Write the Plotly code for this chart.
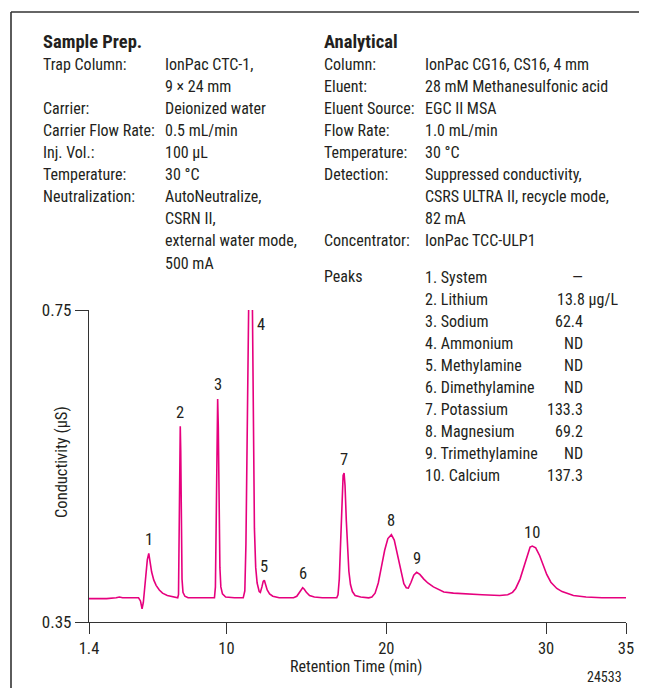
import plotly.graph_objects as go

# ---------------- data ----------------
time_min = [
    1.4, 2.5, 3.1, 3.3, 3.5, 4.5, 4.62, 4.72, 4.80, 4.88, 4.96, 5.05, 5.14, 5.22,
    5.32, 5.45, 5.6, 5.8, 6.0, 6.3, 6.7, 6.95, 7.0, 7.04, 7.08, 7.11, 7.14, 7.18,
    7.22, 7.28, 7.4, 7.6, 9.25, 9.31, 9.36, 9.41, 9.45, 9.49, 9.54, 9.59, 9.65,
    9.75, 9.95, 10.5, 11.05, 11.15, 11.22, 11.30, 11.38, 11.44, 11.5, 11.56, 11.62,
    11.68, 11.75, 11.83, 11.92, 12.05, 12.12, 12.22, 12.30, 12.37, 12.45, 12.55,
    12.7, 12.9, 13.3, 14.2, 14.4, 14.55, 14.67, 14.77, 14.87, 15.0, 15.2, 15.5,
    16.0, 16.9, 16.98, 17.06, 17.14, 17.22, 17.3, 17.36, 17.42, 17.5, 17.58, 17.66,
    17.76, 17.88, 18.05, 18.4, 18.9, 19.1, 19.3, 19.5, 19.7, 19.9, 20.1, 20.32,
    20.5, 20.7, 20.9, 21.1, 21.25, 21.38, 21.55, 21.72, 21.9, 22.1, 22.35, 22.6,
    22.95, 23.3, 23.6, 24.2, 25.0, 26.0, 27.1, 27.6, 27.9, 28.1, 28.37, 28.6, 28.8,
    29.0, 29.14, 29.35, 29.6, 29.85, 30.04, 30.3, 30.67, 31.0, 31.4, 31.71, 32.5,
    33.5, 35.0,
]
conductivity_uS = [
    0.380, 0.380, 0.381, 0.382, 0.381, 0.381, 0.377, 0.367, 0.375, 0.392, 0.412,
    0.430, 0.438, 0.428, 0.414, 0.404, 0.397, 0.391, 0.387, 0.384, 0.382, 0.381,
    0.385, 0.450, 0.560, 0.601, 0.570, 0.470, 0.405, 0.388, 0.383, 0.381, 0.381,
    0.395, 0.480, 0.590, 0.636, 0.600, 0.500, 0.420, 0.395, 0.386, 0.382, 0.381,
    0.381, 0.390, 0.450, 0.600, 0.780, 0.920, 0.950, 0.900, 0.750, 0.580, 0.470,
    0.420, 0.400, 0.389, 0.388, 0.395, 0.402, 0.4035, 0.399, 0.391, 0.386, 0.383,
    0.381, 0.381, 0.383, 0.388, 0.392, 0.394, 0.392, 0.388, 0.384, 0.382, 0.381,
    0.381, 0.385, 0.405, 0.450, 0.510, 0.538, 0.541, 0.525, 0.480, 0.440, 0.415,
    0.398, 0.389, 0.384, 0.382, 0.381, 0.382, 0.387, 0.400, 0.421, 0.442, 0.457,
    0.462, 0.455, 0.436, 0.414, 0.399, 0.394, 0.3935, 0.401, 0.410, 0.4137, 0.411,
    0.405, 0.400, 0.395, 0.391, 0.3885, 0.387, 0.3865, 0.385, 0.384, 0.385, 0.388,
    0.393, 0.405, 0.420, 0.436, 0.446, 0.4474, 0.445, 0.435, 0.420, 0.411, 0.401,
    0.393, 0.389, 0.386, 0.384, 0.382, 0.381, 0.381,
]

peak_numbers = ["1", "2", "3", "4", "5", "6", "7", "8", "9", "10"]
peak_times = [5.14, 7.11, 9.45, 11.5, 12.37, 14.77, 17.36, 20.32, 21.9, 29.14]
peak_tops = [0.438, 0.601, 0.636, 0.75, 0.4035, 0.394, 0.541, 0.462, 0.4137, 0.4474]

x_tick_values = [1.4, 10, 20, 30, 35]
x_tick_labels = ["1.4", "10", "20", "30", "35"]
y_tick_values = [0.35, 0.75]
y_tick_labels = ["0.35", "0.75"]

sample_prep_labels = ["Trap Column:", "", "Carrier:", "Carrier Flow Rate:", "Inj. Vol.:",
                      "Temperature:", "Neutralization:", "", "", ""]
sample_prep_values = ["IonPac CTC-1,", "9 × 24 mm", "Deionized water", "0.5 mL/min",
                      "100 µL", "30 °C", "AutoNeutralize,", "CSRN II,",
                      "external water mode,", "500 mA"]

analytical_labels = ["Column:", "Eluent:", "Eluent Source:", "Flow Rate:", "Temperature:",
                     "Detection:", "", "", "Concentrator:"]
analytical_values = ["IonPac CG16, CS16, 4 mm", "28 mM Methanesulfonic acid", "EGC II MSA",
                     "1.0 mL/min", "30 °C", "Suppressed conductivity,",
                     "CSRS ULTRA II, recycle mode,", "82 mA", "IonPac TCC-ULP1"]

peak_names = ["1. System", "2. Lithium", "3. Sodium", "4. Ammonium", "5. Methylamine",
              "6. Dimethylamine", "7. Potassium", "8. Magnesium", "9. Trimethylamine",
              "10. Calcium"]
peak_amounts = ["—", "13.8 µg/L", "62.4", "ND", "ND", "ND", "133.3", "69.2", "ND", "137.3"]

# ---------------- layout helpers ----------------
OFF = 8                      # browser default body margin
W, H = 647 - OFF, 688 - OFF
L, R, T, B = 89, 626, 310, 622   # plot area in window pixels
FONT = "Roboto Condensed, Liberation Sans Narrow, Roboto, sans-serif"
FS = 16
TXT = "#231f20"
PINK = "#e6007e"
AX = "#333333"


def px(x):
    return (x - L) / (R - L)


def py(y):
    return (B - y) / (B - T)


fig = go.Figure()
fig.add_trace(go.Scatter(x=time_min, y=conductivity_uS, mode="lines",
                         line=dict(color=PINK, width=1.6), hoverinfo="skip",
                         showlegend=False))

ann = []


def text(x, y, s, size=FS, anchor="left", bold=False, angle=0):
    ann.append(dict(x=px(x), y=py(y), xref="paper", yref="paper",
                    text=f"<b>{s}</b>" if bold else s, textangle=angle,
                    showarrow=False, xanchor=anchor, yanchor="middle", borderpad=0,
                    font=dict(family=FONT, size=size, color=TXT)))


STEP = 22.1
# Sample prep block
text(42, 42, "Sample Prep.", size=18.5, bold=True)
for i, (lab, val) in enumerate(zip(sample_prep_labels, sample_prep_values)):
    y = 42 + STEP * (i + 1)
    if lab:
        text(42, y, lab)
    text(164, y, val)

# Analytical block
text(323, 42, "Analytical", size=18.5, bold=True)
for i, (lab, val) in enumerate(zip(analytical_labels, analytical_values)):
    y = 42 + STEP * (i + 1)
    if lab:
        text(323, y, lab)
    text(424, y, val)

# Peaks table
text(323, 276, "Peaks")
for i, (nm, amt) in enumerate(zip(peak_names, peak_amounts)):
    y = 277 + STEP * i
    text(424, y, nm)
    if "µg" in amt:
        text(556, y, amt)
    else:
        text(584, y, amt, anchor="right")

# peak number labels
for n, t, v in zip(peak_numbers, peak_times, peak_tops):
    if n == "4":
        ann.append(dict(x=t, y=v, xref="x", yref="y", text=n, showarrow=False,
                        xanchor="center", yanchor="middle", xshift=11, yshift=-14,
                        font=dict(family=FONT, size=16.5, color=TXT)))
    else:
        ann.append(dict(x=t, y=v, xref="x", yref="y", text=n, showarrow=False,
                        xanchor="center", yanchor="middle", yshift=14,
                        font=dict(family=FONT, size=16.5, color=TXT)))

# axis titles
text(356, 666, "Retention Time (min)", size=16, anchor="center")
text(61, 462, "Conductivity (µS)", size=16.5, anchor="center", angle=-90)
# figure number
text(623, 677, "24533", size=14, anchor="right")

frame = dict(color=AX, width=1.6)
fig.update_layout(
    width=W, height=H,
    margin=dict(l=L - OFF, r=W - (R - OFF), t=T - OFF, b=H - (B - OFF), pad=0),
    paper_bgcolor="white", plot_bgcolor="white",
    annotations=ann,
    shapes=[
        dict(type="line", xref="paper", yref="paper", x0=px(11), x1=px(700),
             y0=py(12), y1=py(12), line=frame, layer="below"),
        dict(type="line", xref="paper", yref="paper", x0=px(11), x1=px(11),
             y0=py(12), y1=py(740), line=frame, layer="below"),
    ],
    xaxis=dict(range=[1.4, 35], tickvals=x_tick_values, ticktext=x_tick_labels,
               showline=True, linecolor=AX, linewidth=1.3, ticks="outside",
               ticklen=11, tickcolor=AX, tickwidth=1.3, showgrid=False, zeroline=False,
               tickfont=dict(family=FONT, size=16.5, color=TXT)),
    yaxis=dict(range=[0.35, 0.75], tickvals=y_tick_values, ticktext=y_tick_labels,
               showline=True, linecolor=AX, linewidth=1.3, ticks="outside",
               ticklen=13, tickcolor=AX, tickwidth=1.3, showgrid=False, zeroline=False,
               tickfont=dict(family=FONT, size=17, color=TXT)),
)

fig.write_html("out.html")
